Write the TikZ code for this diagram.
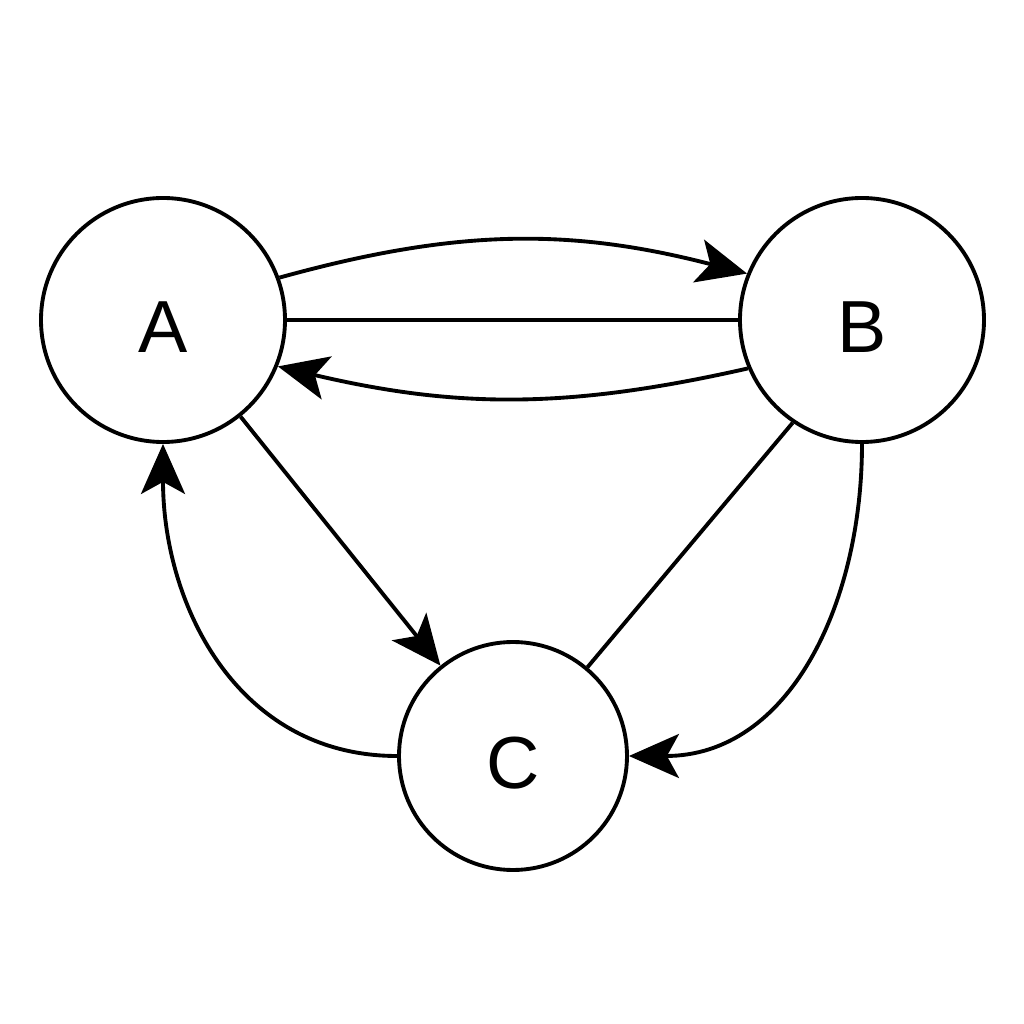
\documentclass[tikz,border=0pt]{standalone}
\usepackage{fontspec}
\setmainfont{Liberation Sans}
\usetikzlibrary{arrows.meta}

\begin{document}
\begin{tikzpicture}[
    state/.style={draw, circle, line width=1.1pt, inner sep=0pt, text height=0.66cm, text depth=0pt, font=\fontsize{21}{25}\selectfont},
    link/.style={line width=1.1pt},
    edge/.style={link, -{Stealth[length=5mm, width=4.4mm, inset=1.2mm]}}
]
    \useasboundingbox (0,0) rectangle (10.24,10.24);

    % States
    \node [state, minimum size=2.44cm] (A) at (1.63,7.04) {A};
    \node [state, minimum size=2.44cm] (B) at (8.62,7.04) {B};
    \node [state, minimum size=2.28cm] (C) at (5.13,2.68) {C};

    % Between A and B
    \draw [edge] (A.20) to[bend left=15] (B.158);
    \draw [link] (A) -- (B);
    \draw [edge] (B.203) to[bend left=13] (A.338);

    % Towards C
    \draw [edge] (A) -- (C);
    \draw [link] (B.236) -- (C.50);
    \draw [edge] (B.south) to[out=-90, in=0, looseness=1.05] (C.east);

    % Back to A
    \draw [edge] (C.west) to[out=180, in=-90, looseness=1.05] (A.south);
\end{tikzpicture}
\end{document}
